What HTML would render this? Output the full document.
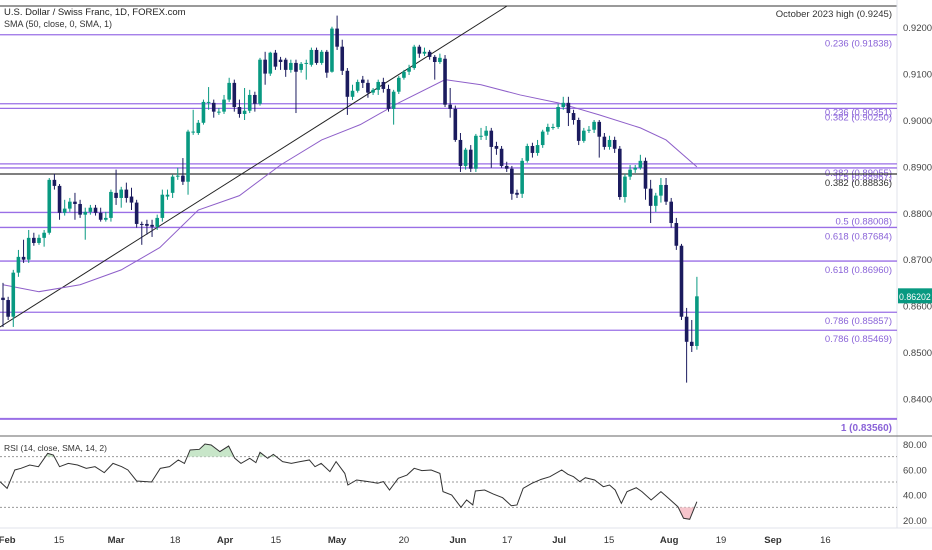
<!DOCTYPE html>
<html><head><meta charset="utf-8"><style>
html,body{margin:0;padding:0;background:#fff;}
svg{display:block;font-family:"Liberation Sans",sans-serif;}
</style></head><body>
<svg id="chart" width="932" height="550" viewBox="0 0 932 550"></svg>
<script>
// ---- data (prices in 1e-4 units) ----
const opens  = [8617,8612,8576,8671,8705,8699,8746,8735,8746,8757,8871,8858,8800,8809,8824,8819,8796,8802,8811,8800,8785,8789,8843,8832,8850,8835,8822,8776,8776,8774,8770,8789,8835,8843,8878,8880,8867,8975,8972,8994,9039,9037,9018,9018,9044,9080,9028,9013,9020,9054,9035,9130,9100,9145,9130,9130,9108,9123,9108,9121,9119,9151,9123,9147,9104,9197,9158,9106,9050,9063,9087,9080,9059,9065,9082,9067,9024,9061,9091,9104,9112,9158,9143,9147,9136,9125,9132,9033,9024,8957,8901,8936,8895,8966,8966,8977,8944,8938,8901,8895,8843,8841,8912,8944,8929,8946,8975,8985,8985,9028,9037,9015,9000,8955,8977,8979,8996,8964,8942,8957,8938,8834,8878,8893,8897,8912,8852,8815,8837,8860,8824,8778,8729,8576,8522,8513];
const highs  = [8649,8619,8677,8720,8742,8763,8757,8753,8763,8875,8884,8862,8828,8832,8843,8828,8811,8817,8817,8811,8802,8850,8893,8856,8865,8854,8828,8781,8785,8785,8796,8850,8850,8882,8897,8918,8979,9022,9000,9044,9071,9044,9026,9054,9091,9087,9044,9069,9065,9061,9134,9147,9147,9151,9136,9134,9130,9130,9125,9130,9156,9156,9151,9151,9201,9225,9173,9112,9076,9087,9095,9087,9069,9087,9091,9076,9065,9095,9108,9119,9162,9162,9156,9151,9140,9143,9140,9069,9031,8972,8940,8946,8970,8983,8987,8983,8953,8944,8910,8901,8850,8918,8949,8951,8957,8979,8992,8992,9035,9050,9050,9022,9005,8983,8987,9000,9000,8972,8966,8964,8944,8884,8903,8903,8925,8919,8871,8843,8875,8875,8832,8789,8733,8595,8569,8662];
const lows   = [8554,8569,8554,8662,8692,8692,8729,8731,8727,8753,8850,8785,8794,8802,8785,8789,8742,8796,8794,8781,8781,8781,8817,8811,8822,8806,8768,8731,8753,8748,8763,8781,8828,8832,8871,8860,8839,8968,8968,8990,9022,9005,9011,9013,9039,9018,9005,9000,9015,9018,9031,9076,9095,9108,9108,9093,9102,9015,9102,9087,9115,9119,9119,9091,9102,9151,9097,9011,9043,9059,9069,9048,9054,9054,9059,9018,8990,9056,9087,9097,9108,9134,9138,9130,9087,9121,9028,9005,8953,8888,8893,8888,8888,8957,8957,8897,8925,8897,8888,8828,8832,8832,8908,8919,8923,8940,8968,8979,8981,9022,8987,8990,8946,8951,8972,8972,8919,8936,8936,8929,8828,8822,8871,8886,8893,8828,8778,8802,8822,8817,8768,8720,8569,8434,8500,8505];
const closes = [8612,8576,8671,8705,8699,8746,8735,8746,8757,8871,8858,8800,8809,8824,8819,8796,8802,8811,8800,8785,8789,8845,8832,8850,8832,8822,8776,8774,8772,8770,8789,8839,8839,8878,8880,8867,8975,8975,8994,9039,9039,9018,9018,9044,9080,9028,9013,9020,9054,9035,9130,9100,9145,9115,9125,9108,9123,9104,9121,9123,9151,9123,9147,9102,9197,9158,9106,9050,9063,9082,9080,9059,9065,9082,9067,9024,9061,9091,9104,9112,9158,9143,9147,9136,9125,9134,9033,9024,8957,8901,8936,8895,8966,8966,8977,8942,8938,8901,8895,8841,8839,8912,8944,8929,8946,8975,8985,8985,9028,9037,9015,9000,8955,8977,8979,8996,8964,8942,8957,8938,8834,8878,8893,8897,8912,8852,8815,8837,8860,8824,8778,8729,8576,8522,8513,8620];
const smaIdx = [0,7,15,23,30.5,38,46,54,62,69.5,77,86,93,100.6,108,116,124,129,135];
const smaVal = [8645,8630,8645,8677,8725,8806,8837,8903,8957,8990,9037,9087,9076,9054,9037,9011,8983,8957,8899];
const rsiIdx = [-0.6,0.8,2.3,3.5,5.2,6.9,8.7,9.8,11,12.7,14.5,16.2,17.9,19.7,21.4,23.1,24.3,26,28.9,30.6,32.4,34.1,35.3,36.4,38.2,39.3,40.5,42.2,43.9,45.1,46.3,48,49.2,50,51.5,52.6,54.4,56.1,57.8,59.6,60.7,61.9,63.6,64.8,66.5,67.1,68.8,71.1,72.9,74,75.2,76.9,78.6,80,81.5,83.3,85,85.6,87.3,89.1,90.2,91.4,91.9,93.7,95.4,97.2,98.9,100,101.2,102.9,104.7,106.4,108.7,109.9,111,112.2,113.3,115.1,116.8,118,119.1,120.3,121.4,123.2,124.3,126.1,128,129.5,131.3,132.4,133.6,135];
const rsiVal = [50.3,45,59.5,60.8,63.4,62.1,72.6,71.3,62.1,64.7,63.4,60.8,62.1,57.4,64.7,62.1,59.5,50.8,50,60.8,62.1,67.4,64.7,75.3,75.8,80,79.2,74,78.4,68.7,64.7,68.7,65.3,73.4,68.7,71.8,66.1,64.7,66.1,67.4,62.1,64.7,58.2,66.1,56.8,47.6,51.6,50.3,49,50.3,43.7,52.9,55.5,60.8,59,59.5,56.8,42.4,39.7,30,35.8,31.9,42.9,43.7,40.5,37.6,31.3,31.9,45,49,52.1,54.2,59.5,56.1,54.2,50.3,53.4,51.6,46.3,47.6,43.7,33.2,42.4,45.5,42.4,35.8,42.4,37.1,30.5,21.4,20.6,34.5];
const priceTicks = [0.92,0.91,0.90,0.89,0.88,0.87,0.86,0.85,0.84];
const rsiTicks = [80,60,40,20];
const fibPrices = [0.91838,0.90351,0.90250,0.89055,0.88967,0.88008,0.87684,0.86960,0.85857,0.85469,0.83560];
const fibLabels = ["0.236 (0.91838)","0.236 (0.90351)","0.382 (0.90250)","0.382 (0.89055)","0.5 (0.88967)","0.5 (0.88008)","0.618 (0.87684)","0.618 (0.86960)","0.786 (0.85857)","0.786 (0.85469)","1 (0.83560)"];
const timeLabels = ["Feb","15","Mar","18","Apr","15","May","20","Jun","17","Jul","15","Aug","19","Sep","16"];
const timeIdx = [0.8,10.9,22,33.5,43.2,53.1,65,78,88.5,98.1,108.2,117.9,129.6,139.7,149.8,160];

// ---- axes ----
const X0=3, STEP=5.14, PLOT_R=897;
const xs = i => X0 + i*STEP;
const yp = p => 120 + (0.90 - p)*4640;
const yr = v => 444 + (80 - v)*1.267;
const NS='http://www.w3.org/2000/svg';
const svg=document.getElementById('chart');
function mk(tag,attrs,parent){const e=document.createElementNS(NS,tag);for(const k in attrs)e.setAttribute(k,attrs[k]);(parent||svg).appendChild(e);return e;}

let e;
e=mk('line',{x1:0,y1:6,x2:PLOT_R,y2:6,stroke:'#333','stroke-width':1});


e=mk('line',{x1:PLOT_R,y1:0,x2:PLOT_R,y2:528,stroke:'#e0e3eb','stroke-width':1});


e=mk('line',{x1:0,y1:436,x2:932,y2:436,stroke:'#666','stroke-width':1});


e=mk('line',{x1:0,y1:528,x2:932,y2:528,stroke:'#e0e3eb','stroke-width':1});



fibPrices.forEach((p,k)=>{
  const y=yp(p);
  const ln=mk('line',{x1:0,y1:y,x2:PLOT_R,y2:y,stroke:'#9a6fe6','stroke-width':k===10?2:1.3});
  
  
  const t=mk('text',{x:892,y:y+12,'text-anchor':'end','font-size':k===10?10:9.5,fill:'#8a63d8','font-weight':k===10?'bold':'normal'});
  t.textContent=fibLabels[k];
  
  
});
e=mk('line',{x1:0,y1:yp(0.88836),x2:PLOT_R,y2:yp(0.88836),stroke:'#333','stroke-width':1.2});


e=mk('text',{x:892,y:yp(0.88836)+12,'text-anchor':'end','font-size':9.5,fill:'#333'});
e.textContent='0.382 (0.88836)';


e=mk('text',{x:892,y:17,'text-anchor':'end','font-size':9.5,fill:'#333'});
e.textContent='October 2023 high (0.9245)';



e=mk('line',{x1:0,y1:327,x2:507,y2:6,stroke:'#222','stroke-width':1});



e=mk('polyline',{points:smaIdx.map((i,k)=>xs(i)+','+yp(smaVal[k]/10000)).join(' '),fill:'none',stroke:'#8e5fc9','stroke-width':1});



const UP='#089981', DN='#1b1b5e';
for(let i=0;i<opens.length;i++){
  const o=opens[i]/1e4,c=closes[i]/1e4,h=highs[i]/1e4,l=lows[i]/1e4;
  const col=c>=o?UP:DN, x=xs(i);
  const g=mk('g',{});
  
  
  mk('line',{x1:x,y1:yp(h),x2:x,y2:yp(l),stroke:col,'stroke-width':1},g);
  const yt=Math.min(yp(o),yp(c)), hb=Math.max(1,Math.abs(yp(o)-yp(c)));
  mk('rect',{x:x-1.8,y:yt,width:3.6,height:hb,fill:col},g);
}

priceTicks.forEach(p=>{
  const t=mk('text',{x:903,y:yp(p)+4,'font-size':9.5,fill:'#444'});
  t.textContent=p.toFixed(5);
  
  
});
const lastC=closes[closes.length-1]/1e4;
e=mk('rect',{x:898,y:yp(lastC)-8,width:34,height:15,fill:'#089981'});


e=mk('text',{x:899,y:yp(lastC)+3.5,'font-size':8.8,fill:'#fff'});
e.textContent='0.86202';



e=mk('text',{x:4,y:15,'font-size':9.5,fill:'#222'});
e.textContent='U.S. Dollar / Swiss Franc, 1D, FOREX.com';


e=mk('text',{x:4,y:27,'font-size':9,fill:'#333'});
e.textContent='SMA (50, close, 0, SMA, 1)';



[70,50,30].forEach(v=>{
  const ln=mk('line',{x1:0,y1:yr(v),x2:PLOT_R,y2:yr(v),stroke:'#999','stroke-width':1,'stroke-dasharray':'2,2'});
  
  
});
const rsiPts=rsiIdx.map((i,k)=>[xs(i),yr(rsiVal[k])]);
const area='M'+rsiPts.map(p=>p.join(',')).join(' L')+' L'+rsiPts[rsiPts.length-1][0]+','+yr(50)+' L'+rsiPts[0][0]+','+yr(50)+' Z';
const defs=mk('defs',{});
const c1=mk('clipPath',{id:'ob'},defs); mk('rect',{x:0,y:0,width:932,height:yr(70)},c1);
const c2=mk('clipPath',{id:'os'},defs); mk('rect',{x:0,y:yr(30),width:932,height:100},c2);
e=mk('path',{d:area,fill:'#c8e6c9','clip-path':'url(#ob)'});


e=mk('path',{d:area,fill:'#f6c5cc','clip-path':'url(#os)'});


e=mk('polyline',{points:rsiPts.map(p=>p.join(',')).join(' '),fill:'none',stroke:'#333','stroke-width':1});


e=mk('text',{x:4,y:451,'font-size':8.5,fill:'#333'});
e.textContent='RSI (14, close, SMA, 14, 2)';


rsiTicks.forEach(v=>{
  const t=mk('text',{x:903,y:yr(v)+4,'font-size':9.5,fill:'#444'});
  t.textContent=v.toFixed(2);
  
  
});

timeLabels.forEach((s,k)=>{
  const t=mk('text',{x:xs(timeIdx[k]),y:543,'text-anchor':'middle','font-size':9.5,fill:'#333','font-weight':/^[A-Z]/.test(s)?'bold':'normal'});
  t.textContent=s;
  
  
});
</script>
</body></html>
